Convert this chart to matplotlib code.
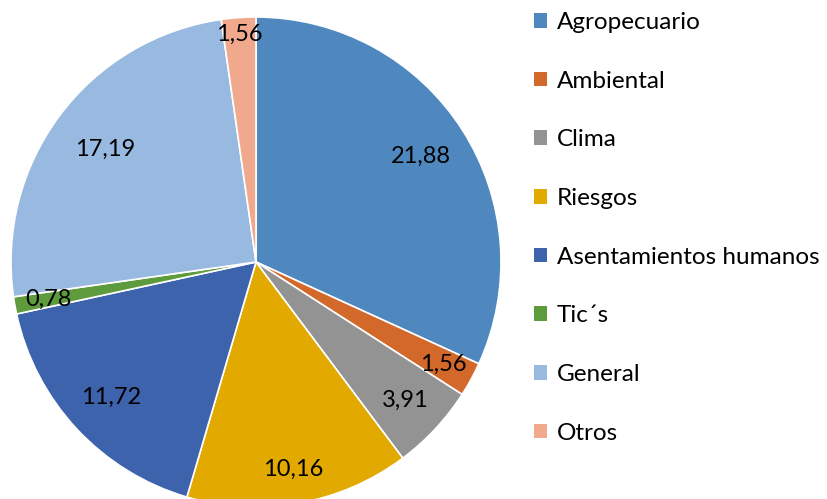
import numpy as np
import matplotlib.pyplot as plt
from matplotlib.patches import Patch

plt.rcParams['font.family'] = ['Lato', 'DejaVu Sans']

categories = ["Agropecuario", "Ambiental", "Clima", "Riesgos",
              "Asentamientos humanos", "Tic´s", "General", "Otros"]
values = [21.88, 1.56, 3.91, 10.16, 11.72, 0.78, 17.19, 1.56]
labels = ["21,88", "1,56", "3,91", "10,16", "11,72", "0,78", "17,19", "1,56"]
colors = ["#4F87BF", "#D2682A", "#939393", "#E2AA00",
          "#3D63AD", "#5E9B3C", "#99BAE0", "#F0A98C"]
# per-label radius (fraction of pie radius), like Excel's best fit
label_r = [0.80, 0.87, 0.83, 0.86, 0.81, 0.86, 0.77, 0.93]

fig = plt.figure(figsize=(8.27, 4.99), dpi=100)
# pie is clipped at the bottom of the picture
ax = fig.add_axes([11 / 827, -8 / 499, 490 / 827, 490 / 499])

wedges, _ = ax.pie(values, colors=colors, startangle=90, counterclock=False,
                   radius=1, wedgeprops={'edgecolor': 'white', 'linewidth': 1.2})

for w, lab, r in zip(wedges, labels, label_r):
    ang = np.deg2rad((w.theta1 + w.theta2) / 2)
    ax.text(r * np.cos(ang), r * np.sin(ang), lab, ha='center', va='center',
            fontsize=17, color='black')

ax.set_xlim(-1, 1)
ax.set_ylim(-1, 1)
ax.set_aspect('equal')
ax.axis('off')

handles = [Patch(facecolor=c, edgecolor='none') for c in colors]
fig.legend(handles, categories, loc='upper left', bbox_to_anchor=(534 / 827, 1 - 12 / 499),
           frameon=False, fontsize=17.5, handlelength=0.55, handleheight=0.55,
           handletextpad=0.4, labelspacing=1.55, borderpad=0, borderaxespad=0)

fig.savefig("out.png", dpi=100)
